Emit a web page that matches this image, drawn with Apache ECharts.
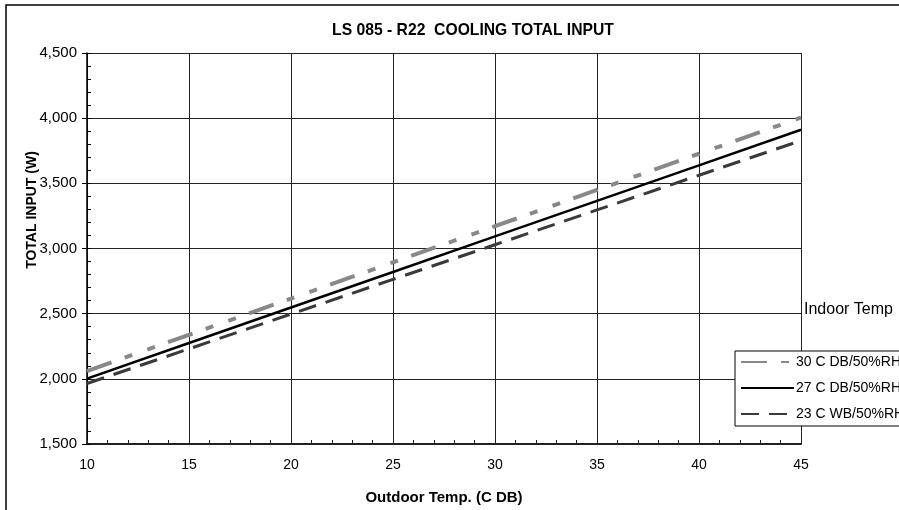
<!DOCTYPE html>
<html>
<head>
<meta charset="utf-8">
<script src="https://cdn.jsdelivr.net/npm/echarts@6/dist/echarts.min.js"></script>
<style>
html,body{margin:0;padding:0;background:#fff;}
#chart{width:899px;height:510px;}
</style>
</head>
<body>
<div id="chart"></div>
<script>
const outdoorTemps = [10, 15, 20, 25, 30, 35, 40, 45];
const input30DB = [2060, 2338, 2616, 2894, 3171, 3449, 3727, 4005];
const input27DB = [2002, 2275, 2547, 2820, 3093, 3365, 3638, 3911];
const input23WB = [1964, 2230, 2497, 2763, 3029, 3296, 3562, 3828];
const seriesNames = ['30 C DB/50%RH', '27 C DB/50%RH', '23 C WB/50%RH'];

const FONT = 'Liberation Sans, Arial, sans-serif';
const chart = echarts.init(document.getElementById('chart'), null, {renderer: 'canvas'});

function pairs(xs, ys) { return xs.map((x, i) => [x, ys[i]]); }

chart.setOption({
  animation: false,
  backgroundColor: '#fff',
  textStyle: {fontFamily: FONT},
  grid: {left: 87, right: 98, top: 53, bottom: 61, containLabel: false},
  xAxis: {
    type: 'value', min: 10, max: 45, interval: 5,
    name: 'Outdoor Temp. (C DB)', nameLocation: 'middle', nameGap: 46,
    nameTextStyle: {fontFamily: FONT, fontSize: 15, fontWeight: 'bold', color: '#000'},
    axisLine: {show: true, lineStyle: {color: '#222', width: 2}},
    axisTick: {show: true, inside: true, length: 4, lineStyle: {color: '#222'}},
    minorTick: {show: true, splitNumber: 5, length: 4, lineStyle: {color: '#222', width: 1}},
    axisLabel: {fontFamily: FONT, fontSize: 14, color: '#000', margin: 14},
    splitLine: {show: true, lineStyle: {color: '#222', width: 1}}
  },
  yAxis: [{
    type: 'value', min: 1500, max: 4500, interval: 500,
    axisLine: {show: true, lineStyle: {color: '#000', width: 1.5}},
    axisTick: {show: true, inside: false, length: 5, lineStyle: {color: '#000'}},
    axisLabel: {fontFamily: FONT, fontSize: 15, color: '#000', margin: 10,
      formatter: v => v.toLocaleString('en-US')},
    splitLine: {show: true, lineStyle: {color: '#222', width: 1}}
  }, {
    type: 'value', min: 1500, max: 4500, interval: 500, position: 'left',
    axisLine: {show: false},
    axisTick: {show: true, inside: true, length: 4, lineStyle: {color: '#000'}},
    minorTick: {show: true, splitNumber: 5, length: 4, lineStyle: {color: '#000', width: 1}},
    axisLabel: {show: false},
    splitLine: {show: false}
  }],
  legend: {
    orient: 'vertical', left: 735, top: 351,
    data: seriesNames,
    backgroundColor: '#fff', borderColor: '#000', borderWidth: 1,
    padding: [4, 40, 5, 5],
    itemWidth: 53, itemHeight: 14, itemGap: 12,
    itemStyle: {opacity: 0},
    textStyle: {fontFamily: FONT, fontSize: 14, color: '#000', padding: [0, 0, 0, -3]}
  },
  graphic: [
    {type: 'rect', z: -10, silent: true, shape: {x: 6, y: 5, width: 1000, height: 1000},
      style: {fill: 'none', stroke: '#000', lineWidth: 1.5}},
    {type: 'text', x: 473, y: 31, silent: true,
      style: {text: 'LS 085 - R22  COOLING TOTAL INPUT', font: 'bold 15.7px ' + FONT,
        fill: '#000', align: 'center', verticalAlign: 'middle'}},
    {type: 'text', x: 32, y: 210, rotation: Math.PI / 2, silent: true,
      style: {text: 'TOTAL INPUT (W)', font: 'bold 14px ' + FONT,
        fill: '#000', align: 'center', verticalAlign: 'middle'}},
    {type: 'text', x: 804, y: 310, silent: true,
      style: {text: 'Indoor Temp', font: '16px ' + FONT,
        fill: '#000', align: 'left', verticalAlign: 'middle'}}
  ],
  series: [
    {name: seriesNames[0], type: 'line', symbol: 'none', data: pairs(outdoorTemps, input30DB),
      lineStyle: {color: '#888888', width: 4, type: [26, 14, 8, 16, 8, 14]}, itemStyle: {color: '#888888'}, z: 3},
    {name: seriesNames[1], type: 'line', symbol: 'none', data: pairs(outdoorTemps, input27DB),
      lineStyle: {color: '#000000', width: 2.5, type: 'solid'}, itemStyle: {color: '#000000'}, z: 4},
    {name: seriesNames[2], type: 'line', symbol: 'none', data: pairs(outdoorTemps, input23WB),
      lineStyle: {color: '#3a3a3a', width: 3, type: [18, 10]}, itemStyle: {color: '#3a3a3a'}, z: 3}
  ]
});
</script>
</body>
</html>
